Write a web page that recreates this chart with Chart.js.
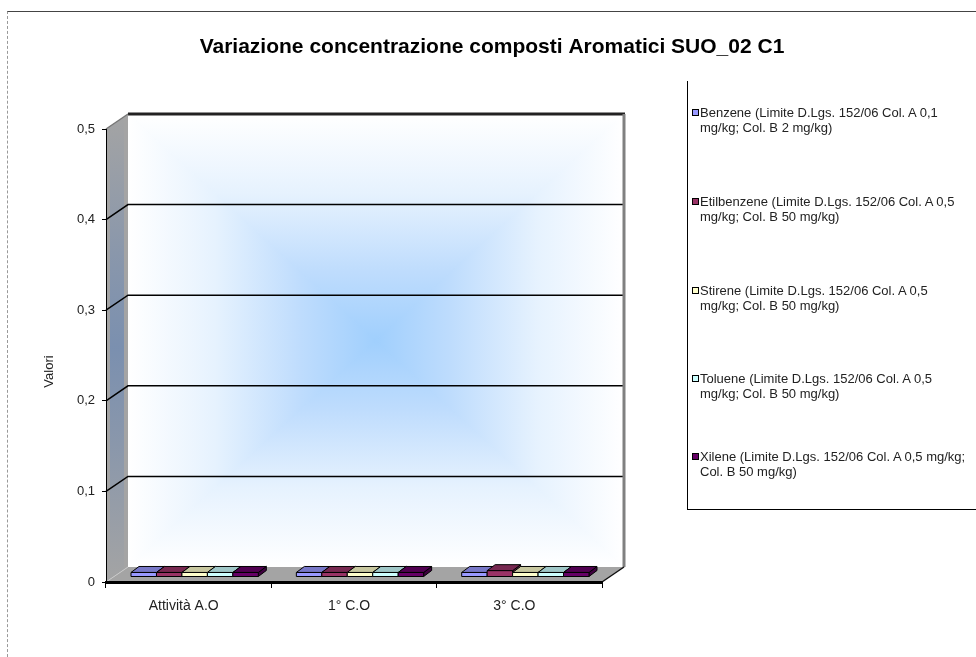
<!DOCTYPE html>
<html>
<head>
<meta charset="utf-8">
<script src="https://cdn.jsdelivr.net/npm/chart.js@4/dist/chart.umd.min.js"></script>
<style>
  html, body { margin: 0; padding: 0; background: #fff; }
  #wrap { position: relative; width: 976px; height: 657px; overflow: hidden; }
  #frame { position: absolute; left: 7px; top: 11px; right: -20px; bottom: -20px;
           border-top: 1px solid #444; border-left: 1px dashed #999; }
  canvas { position: absolute; left: 0; top: 0; }
  #legend { position: absolute; left: 687px; top: 81px; width: 320px; height: 428px;
            border-left: 1px solid #000; border-bottom: 1px solid #000;
            font-family: "Liberation Sans", Arial, sans-serif; font-size: 13px;
            line-height: 15px; color: #222; }
  .item { position: absolute; left: 4px; }
  .box { position: absolute; left: 0; top: 4px; width: 5px; height: 5px; border: 1px solid #000; }
  .txt { margin-left: 8px; white-space: nowrap; }
</style>
</head>
<body>
<div id="wrap">
  <div id="frame"></div>
  <canvas id="chart" width="976" height="657"></canvas>
  <div id="legend"></div>
</div>
<script>
// Sampling campaigns
const categories = ['Attività A.O', '1° C.O', '3° C.O'];

// Concentrations (mg/kg) per compound
const benzene     = [0.005, 0.005, 0.005];
const etilbenzene = [0.005, 0.005, 0.007];
const stirene     = [0.005, 0.005, 0.005];
const toluene     = [0.005, 0.005, 0.005];
const xilene      = [0.005, 0.005, 0.005];

// Legend text, split where it wraps
const seriesNames = [
  ['Benzene (Limite D.Lgs. 152/06 Col. A 0,1', 'mg/kg; Col. B 2 mg/kg)'],
  ['Etilbenzene (Limite D.Lgs. 152/06 Col. A 0,5', 'mg/kg; Col. B 50 mg/kg)'],
  ['Stirene (Limite D.Lgs. 152/06 Col. A 0,5', 'mg/kg; Col. B 50 mg/kg)'],
  ['Toluene (Limite D.Lgs. 152/06 Col. A 0,5', 'mg/kg; Col. B 50 mg/kg)'],
  ['Xilene (Limite D.Lgs. 152/06 Col. A 0,5 mg/kg;', 'Col. B 50 mg/kg)']
];
const seriesColors = ['#9999FF', '#993366', '#FFFFCC', '#CCFFFF', '#660066'];
const seriesValues = [benzene, etilbenzene, stirene, toluene, xilene];

const chartTitle = 'Variazione concentrazione composti Aromatici SUO_02 C1';
const axisTitle = 'Valori';

// Value axis
const yTicks = [0, 0.1, 0.2, 0.3, 0.4, 0.5];
const Y_MAX = 0.5;

// 3D geometry (pixels)
const DX = 22, DY = -15;   // depth of walls and floor
const BX = 6,  BY = -5;    // bar position inside the depth
const SX = 8,  SY = -6;    // bar slab depth

const FONT = '"Liberation Sans", Arial, sans-serif';

function shade(hex, f) {
  const n = parseInt(hex.slice(1), 16);
  const r = Math.round(((n >> 16) & 255) * f);
  const g = Math.round(((n >> 8) & 255) * f);
  const b = Math.round((n & 255) * f);
  return `rgb(${r},${g},${b})`;
}

// Walls, floor and back gridlines drawn behind the axes
const walls3d = {
  id: 'walls3d',
  beforeDraw(chart) {
    const { ctx, chartArea: a, scales: { y } } = chart;
    const L = a.left, R = a.right;
    const yTop = y.getPixelForValue(Y_MAX), yBot = y.getPixelForValue(0);
    const bl = L + DX, br = R + DX, bt = yTop + DY, bb = yBot + DY;
    const cx = (bl + br) / 2, cy = (bt + bb) / 2;

    ctx.save();
    // back wall: rectangular gradient from the centre
    const stops = [[0, '#a0cffd'], [0.3, '#bedcfd'], [0.65, '#e6f2fe'], [1, '#ffffff']];
    const tri = (pts, ex, ey) => {
      const g = ctx.createLinearGradient(cx, cy, ex, ey);
      stops.forEach(s => g.addColorStop(s[0], s[1]));
      ctx.beginPath();
      ctx.moveTo(cx, cy);
      pts.forEach(p => ctx.lineTo(p[0], p[1]));
      ctx.closePath();
      ctx.fillStyle = g;
      ctx.strokeStyle = g;
      ctx.lineWidth = 1.2;
      ctx.fill();
      ctx.stroke();
    };
    tri([[bl, bt], [br, bt]], cx, bt);
    tri([[bl, bb], [br, bb]], cx, bb);
    tri([[bl, bt], [bl, bb]], bl, cy);
    tri([[br, bt], [br, bb]], br, cy);

    // side wall: grey with a soft blue band
    ctx.beginPath();
    ctx.moveTo(L, yTop); ctx.lineTo(bl, bt); ctx.lineTo(bl, bb); ctx.lineTo(L, yBot);
    ctx.closePath();
    ctx.fillStyle = '#a4a4a4';
    ctx.fill();
    ctx.save();
    ctx.clip();
    const sg = ctx.createLinearGradient(0, bt, 0, yBot);
    sg.addColorStop(0, 'rgba(105,135,180,0)');
    sg.addColorStop(0.3, 'rgba(105,135,180,0.45)');
    sg.addColorStop(0.5, 'rgba(105,135,180,0.7)');
    sg.addColorStop(0.7, 'rgba(105,135,180,0.45)');
    sg.addColorStop(1, 'rgba(105,135,180,0)');
    ctx.fillStyle = sg;
    ctx.fillRect(L + 4, bt, DX - 8, yBot - bt);
    ctx.restore();

    // floor
    ctx.beginPath();
    ctx.moveTo(L, yBot); ctx.lineTo(R, yBot); ctx.lineTo(br, bb); ctx.lineTo(bl, bb);
    ctx.closePath();
    ctx.fillStyle = '#a4a4a4';
    ctx.fill();
    ctx.strokeStyle = '#c8c8c8';
    ctx.lineWidth = 1;
    ctx.beginPath(); ctx.moveTo(L, yBot); ctx.lineTo(bl, bb); ctx.stroke();

    // gridlines on back wall and side wall
    ctx.strokeStyle = '#000';
    ctx.lineWidth = 1.5;
    yTicks.filter(v => v > 0 && v < Y_MAX).forEach(v => {
      const py = y.getPixelForValue(v);
      ctx.beginPath();
      ctx.moveTo(L, py); ctx.lineTo(bl, py + DY); ctx.lineTo(br, py + DY);
      ctx.stroke();
    });
    // top edge
    ctx.strokeStyle = '#222';
    ctx.lineWidth = 3;
    ctx.beginPath(); ctx.moveTo(bl, bt); ctx.lineTo(br + 1, bt); ctx.stroke();
    ctx.strokeStyle = '#777';
    ctx.lineWidth = 1.5;
    ctx.beginPath(); ctx.moveTo(L, yTop); ctx.lineTo(bl, bt); ctx.stroke();
    // right edge of back wall
    ctx.strokeStyle = '#808080';
    ctx.lineWidth = 3;
    ctx.beginPath(); ctx.moveTo(br, bt); ctx.lineTo(br, bb); ctx.stroke();
    // floor right edge
    ctx.strokeStyle = '#111';
    ctx.lineWidth = 1.5;
    ctx.beginPath(); ctx.moveTo(R, yBot); ctx.lineTo(br, bb); ctx.stroke();
    ctx.restore();
  },
  afterDraw(chart) {
    const { ctx, chartArea: a } = chart;
    ctx.save();
    // chart title
    ctx.font = 'bold 21px ' + FONT;
    ctx.fillStyle = '#000';
    ctx.textAlign = 'center';
    ctx.textBaseline = 'middle';
    ctx.fillText(chartTitle, 492, 47);
    // value axis title
    ctx.translate(49, (a.top + a.bottom) / 2 + 16);
    ctx.rotate(-Math.PI / 2);
    ctx.font = '13px ' + FONT;
    ctx.fillStyle = '#222';
    ctx.fillText(axisTitle, 0, 0);
    ctx.restore();
  }
};

// Bars drawn as 3D slabs from the bar elements laid out by Chart.js
const bars3d = {
  id: 'bars3d',
  beforeDatasetsDraw(chart) {
    const ctx = chart.ctx;
    const items = [];
    chart.data.datasets.forEach((ds, di) => {
      chart.getDatasetMeta(di).data.forEach(el => items.push({ el, color: ds.backgroundColor }));
    });
    items.sort((p, q) => p.el.x - q.el.x);
    ctx.save();
    ctx.lineWidth = 1;
    ctx.strokeStyle = '#000';
    ctx.lineJoin = 'round';
    items.forEach(({ el, color }) => {
      const { x, y, base, width } = el.getProps(['x', 'y', 'base', 'width'], true);
      const l = x - width / 2 + BX, r = x + width / 2 + BX;
      const t = y + BY, b = base + BY;
      // side face
      ctx.beginPath();
      ctx.moveTo(r, t); ctx.lineTo(r + SX, t + SY); ctx.lineTo(r + SX, b + SY); ctx.lineTo(r, b);
      ctx.closePath();
      ctx.fillStyle = shade(color, 0.62);
      ctx.fill(); ctx.stroke();
      // top face
      ctx.beginPath();
      ctx.moveTo(l, t); ctx.lineTo(l + SX, t + SY); ctx.lineTo(r + SX, t + SY); ctx.lineTo(r, t);
      ctx.closePath();
      ctx.fillStyle = shade(color, 0.78);
      ctx.fill(); ctx.stroke();
      // front face
      ctx.beginPath();
      ctx.rect(l, t, r - l, b - t);
      ctx.fillStyle = color;
      ctx.fill(); ctx.stroke();
    });
    ctx.restore();
    return false;
  }
};

const chart = new Chart(document.getElementById('chart'), {
  type: 'bar',
  data: {
    labels: categories,
    datasets: seriesValues.map((vals, i) => ({
      label: seriesNames[i].join(' '),
      data: vals,
      backgroundColor: seriesColors[i],
      borderColor: '#000',
      borderWidth: 1,
      barPercentage: 1,
      categoryPercentage: 0.77
    }))
  },
  options: {
    responsive: false,
    animation: false,
    layout: { padding: { left: 0, right: 374, top: 129, bottom: 0 } },
    plugins: {
      legend: { display: false },
      tooltip: { enabled: false },
      title: { display: false }
    },
    scales: {
      x: {
        grid: { drawOnChartArea: false, color: '#000', tickLength: 6 },
        border: { color: '#000', width: 3 },
        ticks: { color: '#222', font: { family: FONT, size: 14 }, padding: 10, labelOffset: -5, maxRotation: 0 },
        afterFit(s) { s.height = 75; }
      },
      y: {
        min: 0, max: Y_MAX,
        grid: { drawOnChartArea: false, color: '#000', tickLength: 4 },
        border: { color: '#000', width: 1 },
        ticks: {
          stepSize: 0.1,
          color: '#222',
          font: { family: FONT, size: 13 },
          padding: 7,
          callback: v => (v === 0 ? '0' : v.toFixed(1).replace('.', ','))
        },
        afterFit(s) { s.width = 106; }
      }
    }
  },
  plugins: [walls3d, bars3d]
});

// Legend panel
const legendTops = [105, 194, 283, 371, 449];
const legend = document.getElementById('legend');
chart.data.datasets.forEach((ds, i) => {
  const item = document.createElement('div');
  item.className = 'item';
  item.style.top = (legendTops[i] - 81) + 'px';
  const box = document.createElement('div');
  box.className = 'box';
  box.style.background = ds.backgroundColor;
  const txt = document.createElement('div');
  txt.className = 'txt';
  txt.innerHTML = seriesNames[i].map(s => s.replace(/&/g, '&amp;')).join('<br>');
  item.appendChild(box);
  item.appendChild(txt);
  legend.appendChild(item);
});
</script>
</body>
</html>
